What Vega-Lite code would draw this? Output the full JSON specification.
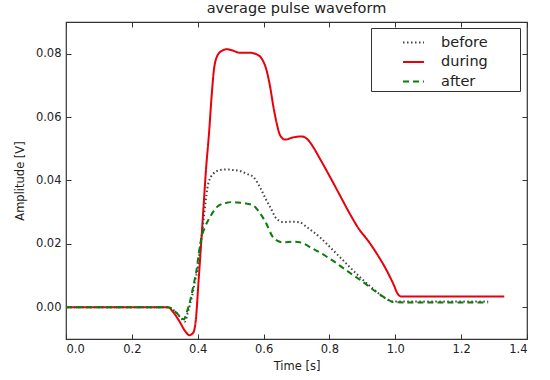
{
  "$schema": "https://vega.github.io/schema/vega-lite/v6.json",
  "width": 461,
  "height": 317,
  "autosize": {"type": "none"},
  "padding": {"left": 66, "top": 22, "right": 23, "bottom": 41},
  "background": "white",
  "title": {"text": "average pulse waveform", "font": "DejaVu Sans", "fontSize": 14.5, "fontWeight": "normal", "color": "#222", "offset": 5},
  "config": {
    "view": {"stroke": "#333", "strokeWidth": 1.2},
    "axis": {"domain": false, "grid": false, "tickColor": "#333", "tickSize": -5, "tickWidth": 1, "labelFont": "DejaVu Sans", "labelFontSize": 11.5, "labelColor": "#222", "titleFont": "DejaVu Sans", "titleFontSize": 11.5, "titleFontWeight": "normal", "titleColor": "#222"},
    "legend": {"labelFont": "DejaVu Sans", "labelFontSize": 14.5, "labelColor": "#222", "strokeColor": "#333", "fillColor": "white", "padding": 3, "symbolType": "stroke", "symbolSize": 440, "symbolStrokeWidth": 2, "symbolOffset": 28, "labelOffset": 16, "rowPadding": 1.5, "cornerRadius": 0, "titleOrient": "right", "titleFontSize": 11, "titleOpacity": 0, "titlePadding": 25}
  },
  "data": {"values": [
    {"s": "during", "t": 0.0, "v": 0.0},
    {"s": "during", "t": 0.1, "v": 0.0},
    {"s": "during", "t": 0.2, "v": 0.0},
    {"s": "during", "t": 0.3, "v": 0.0},
    {"s": "during", "t": 0.31, "v": 0.0},
    {"s": "during", "t": 0.326, "v": -0.0016},
    {"s": "during", "t": 0.346, "v": -0.0047},
    {"s": "during", "t": 0.361, "v": -0.0074},
    {"s": "during", "t": 0.375, "v": -0.0088},
    {"s": "during", "t": 0.387, "v": -0.0079},
    {"s": "during", "t": 0.395, "v": -0.0032},
    {"s": "during", "t": 0.402, "v": 0.0074},
    {"s": "during", "t": 0.409, "v": 0.0179},
    {"s": "during", "t": 0.417, "v": 0.0306},
    {"s": "during", "t": 0.425, "v": 0.0432},
    {"s": "during", "t": 0.435, "v": 0.0558},
    {"s": "during", "t": 0.442, "v": 0.0663},
    {"s": "during", "t": 0.449, "v": 0.0747},
    {"s": "during", "t": 0.458, "v": 0.079},
    {"s": "during", "t": 0.473, "v": 0.0809},
    {"s": "during", "t": 0.488, "v": 0.0814},
    {"s": "during", "t": 0.503, "v": 0.0811},
    {"s": "during", "t": 0.528, "v": 0.0803},
    {"s": "during", "t": 0.559, "v": 0.0803},
    {"s": "during", "t": 0.579, "v": 0.0798},
    {"s": "during", "t": 0.594, "v": 0.0785},
    {"s": "during", "t": 0.609, "v": 0.0748},
    {"s": "during", "t": 0.62, "v": 0.0695},
    {"s": "during", "t": 0.63, "v": 0.0632},
    {"s": "during", "t": 0.64, "v": 0.058},
    {"s": "during", "t": 0.65, "v": 0.0543},
    {"s": "during", "t": 0.665, "v": 0.0529},
    {"s": "during", "t": 0.69, "v": 0.0536},
    {"s": "during", "t": 0.716, "v": 0.0539},
    {"s": "during", "t": 0.736, "v": 0.0527},
    {"s": "during", "t": 0.751, "v": 0.0505},
    {"s": "during", "t": 0.771, "v": 0.0469},
    {"s": "during", "t": 0.802, "v": 0.0411},
    {"s": "during", "t": 0.832, "v": 0.0353},
    {"s": "during", "t": 0.862, "v": 0.0295},
    {"s": "during", "t": 0.893, "v": 0.0242},
    {"s": "during", "t": 0.913, "v": 0.0216},
    {"s": "during", "t": 0.944, "v": 0.0169},
    {"s": "during", "t": 0.974, "v": 0.0116},
    {"s": "during", "t": 0.994, "v": 0.0074},
    {"s": "during", "t": 1.009, "v": 0.004},
    {"s": "during", "t": 1.019, "v": 0.0034},
    {"s": "during", "t": 1.1, "v": 0.0034},
    {"s": "during", "t": 1.2, "v": 0.0034},
    {"s": "during", "t": 1.331, "v": 0.0034},
    {"s": "before", "t": 0.0, "v": 0.0},
    {"s": "before", "t": 0.1, "v": 0.0},
    {"s": "before", "t": 0.2, "v": 0.0},
    {"s": "before", "t": 0.3, "v": 0.0},
    {"s": "before", "t": 0.31, "v": 0.0},
    {"s": "before", "t": 0.336, "v": -0.0018},
    {"s": "before", "t": 0.35, "v": -0.0035},
    {"s": "before", "t": 0.361, "v": -0.0045},
    {"s": "before", "t": 0.371, "v": -0.0012},
    {"s": "before", "t": 0.382, "v": 0.0032},
    {"s": "before", "t": 0.392, "v": 0.0084},
    {"s": "before", "t": 0.402, "v": 0.0137},
    {"s": "before", "t": 0.407, "v": 0.019},
    {"s": "before", "t": 0.412, "v": 0.0225},
    {"s": "before", "t": 0.422, "v": 0.0316},
    {"s": "before", "t": 0.432, "v": 0.039},
    {"s": "before", "t": 0.447, "v": 0.0421},
    {"s": "before", "t": 0.468, "v": 0.0433},
    {"s": "before", "t": 0.488, "v": 0.0435},
    {"s": "before", "t": 0.508, "v": 0.0433},
    {"s": "before", "t": 0.528, "v": 0.043},
    {"s": "before", "t": 0.549, "v": 0.0421},
    {"s": "before", "t": 0.569, "v": 0.0411},
    {"s": "before", "t": 0.589, "v": 0.0379},
    {"s": "before", "t": 0.605, "v": 0.0345},
    {"s": "before", "t": 0.62, "v": 0.0316},
    {"s": "before", "t": 0.64, "v": 0.0279},
    {"s": "before", "t": 0.66, "v": 0.0269},
    {"s": "before", "t": 0.69, "v": 0.027},
    {"s": "before", "t": 0.71, "v": 0.0268},
    {"s": "before", "t": 0.731, "v": 0.0253},
    {"s": "before", "t": 0.751, "v": 0.0238},
    {"s": "before", "t": 0.771, "v": 0.0221},
    {"s": "before", "t": 0.812, "v": 0.0179},
    {"s": "before", "t": 0.852, "v": 0.0137},
    {"s": "before", "t": 0.893, "v": 0.0095},
    {"s": "before", "t": 0.933, "v": 0.0058},
    {"s": "before", "t": 0.964, "v": 0.0032},
    {"s": "before", "t": 0.989, "v": 0.0019},
    {"s": "before", "t": 1.0, "v": 0.0018},
    {"s": "before", "t": 1.1, "v": 0.0018},
    {"s": "before", "t": 1.2, "v": 0.0018},
    {"s": "before", "t": 1.282, "v": 0.0018},
    {"s": "after", "t": 0.0, "v": 0.0},
    {"s": "after", "t": 0.1, "v": 0.0},
    {"s": "after", "t": 0.2, "v": 0.0},
    {"s": "after", "t": 0.3, "v": 0.0},
    {"s": "after", "t": 0.31, "v": 0.0},
    {"s": "after", "t": 0.336, "v": -0.0018},
    {"s": "after", "t": 0.35, "v": -0.0033},
    {"s": "after", "t": 0.358, "v": -0.0038},
    {"s": "after", "t": 0.366, "v": -0.0018},
    {"s": "after", "t": 0.377, "v": 0.0021},
    {"s": "after", "t": 0.387, "v": 0.0069},
    {"s": "after", "t": 0.397, "v": 0.0121},
    {"s": "after", "t": 0.404, "v": 0.0175},
    {"s": "after", "t": 0.412, "v": 0.0222},
    {"s": "after", "t": 0.422, "v": 0.0253},
    {"s": "after", "t": 0.437, "v": 0.0284},
    {"s": "after", "t": 0.458, "v": 0.0316},
    {"s": "after", "t": 0.488, "v": 0.033},
    {"s": "after", "t": 0.508, "v": 0.0332},
    {"s": "after", "t": 0.528, "v": 0.033},
    {"s": "after", "t": 0.549, "v": 0.0327},
    {"s": "after", "t": 0.569, "v": 0.0321},
    {"s": "after", "t": 0.587, "v": 0.03},
    {"s": "after", "t": 0.609, "v": 0.0263},
    {"s": "after", "t": 0.625, "v": 0.0227},
    {"s": "after", "t": 0.64, "v": 0.0211},
    {"s": "after", "t": 0.66, "v": 0.0205},
    {"s": "after", "t": 0.69, "v": 0.0207},
    {"s": "after", "t": 0.71, "v": 0.0205},
    {"s": "after", "t": 0.751, "v": 0.0184},
    {"s": "after", "t": 0.802, "v": 0.0153},
    {"s": "after", "t": 0.852, "v": 0.0116},
    {"s": "after", "t": 0.903, "v": 0.0079},
    {"s": "after", "t": 0.944, "v": 0.0047},
    {"s": "after", "t": 0.974, "v": 0.0027},
    {"s": "after", "t": 0.994, "v": 0.0016},
    {"s": "after", "t": 1.1, "v": 0.0015},
    {"s": "after", "t": 1.2, "v": 0.0015},
    {"s": "after", "t": 1.282, "v": 0.0015}
  ]},
  "layer": [
    {
      "mark": {"type": "line", "interpolate": "monotone", "strokeWidth": 2},
      "encoding": {
        "x": {"field": "t", "type": "quantitative", "scale": {"domain": [0, 1.4], "nice": false, "zero": false},
              "axis": {"orient": "bottom", "values": [0, 0.2, 0.4, 0.6, 0.8, 1.0, 1.2, 1.4], "format": ".1f", "title": "Time [s]", "labelPadding": 9, "titleY": 30, "titleBaseline": "alphabetic"}},
        "y": {"field": "v", "type": "quantitative", "scale": {"domain": [-0.01, 0.09], "nice": false, "zero": false},
              "axis": {"orient": "left", "values": [0, 0.02, 0.04, 0.06, 0.08], "format": ".2f", "title": "Amplitude [V]", "labelPadding": 10, "titleX": -46, "titleBaseline": "middle"}},
        "color": {"field": "s", "type": "nominal", "scale": {"domain": ["before", "during", "after"], "range": ["#444444", "#e8000b", "#0a7d0a"]},
                  "legend": {"title": "|", "orient": "none", "legendX": 305, "legendY": 6}},
        "strokeDash": {"field": "s", "type": "nominal", "scale": {"domain": ["before", "during", "after"], "range": [[1.5, 2.5], [1, 0], [6, 4]]},
                  "legend": {"title": "|", "orient": "none", "legendX": 305, "legendY": 6}}
      }
    },
    {
      "mark": {"type": "point", "opacity": 0},
      "encoding": {
        "x": {"field": "t", "type": "quantitative", "scale": {"domain": [0, 1.4], "nice": false, "zero": false},
              "axis": {"orient": "top", "values": [0, 0.2, 0.4, 0.6, 0.8, 1.0, 1.2, 1.4], "labels": false, "title": null}},
        "y": {"field": "v", "type": "quantitative", "scale": {"domain": [-0.01, 0.09], "nice": false, "zero": false},
              "axis": {"orient": "right", "values": [0, 0.02, 0.04, 0.06, 0.08], "labels": false, "title": null}}
      }
    }
  ],
  "resolve": {"axis": {"x": "independent", "y": "independent"}}
}
